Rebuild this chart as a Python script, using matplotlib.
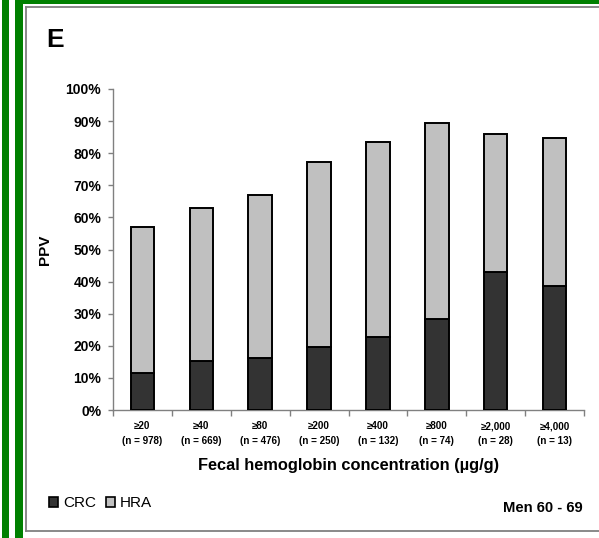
import matplotlib
matplotlib.use("Agg")
import matplotlib.pyplot as plt
from matplotlib.patches import Rectangle, Patch
from matplotlib.lines import Line2D
from matplotlib.ticker import PercentFormatter
import numpy as np

plt.rcParams['font.family'] = ['Liberation Sans', 'DejaVu Sans']

# PPV (%) by fecal hemoglobin cut-off, men aged 60-69
thresholds = ["≥20", "≥40", "≥80", "≥200", "≥400", "≥800", "≥2,000", "≥4,000"]
n_counts = [978, 669, 476, 250, 132, 74, 28, 13]
crc = [11.5, 15.3, 16.1, 19.6, 22.6, 28.3, 42.9, 38.5]
hra = [45.5, 47.6, 50.9, 57.7, 60.8, 61.1, 43.1, 46.2]

W, H = 599, 538
fig = plt.figure(figsize=(W / 100, H / 100), dpi=100)
fig.patch.set_facecolor("white")


def fx(px):
    return px / W


def fy(py):
    return 1 - py / H


green = "#008000"
grey = "#808080"

# frame: two green stripes on the left, green band on top, grey inner box
fig.add_artist(Rectangle((fx(2), 0), fx(7), 1, transform=fig.transFigure,
                         facecolor=green, edgecolor="none"))
fig.add_artist(Rectangle((fx(15), 0), fx(8), 1, transform=fig.transFigure,
                         facecolor=green, edgecolor="none"))
fig.add_artist(Rectangle((fx(15), fy(4)), 1, 4 / H, transform=fig.transFigure,
                         facecolor=green, edgecolor="none"))
fig.add_artist(Line2D([fx(25.5), fx(25.5)], [fy(7), fy(531)], transform=fig.transFigure,
                      color=grey, lw=1.3))
fig.add_artist(Line2D([fx(25.5), 1], [fy(7), fy(7)], transform=fig.transFigure,
                      color=grey, lw=1.3))
fig.add_artist(Line2D([fx(25.5), 1], [fy(531), fy(531)], transform=fig.transFigure,
                      color=grey, lw=1.3))

ax = fig.add_axes([fx(113), fy(410), fx(584) - fx(113), fy(89) - fy(410)])

x = np.arange(len(thresholds))
ax.bar(x, crc, width=0.4, color="#333333", edgecolor="black", linewidth=1.4, zorder=3)
ax.bar(x, hra, width=0.4, bottom=crc, color="#C0C0C0", edgecolor="black",
       linewidth=1.4, zorder=3)

ax.set_xlim(-0.5, len(thresholds) - 0.5)
ax.set_ylim(0, 100)
ax.set_yticks(np.arange(0, 101, 10))
ax.yaxis.set_major_formatter(PercentFormatter(decimals=0))

for side in ["top", "right"]:
    ax.spines[side].set_visible(False)
for side in ["left", "bottom"]:
    ax.spines[side].set_color(grey)
    ax.spines[side].set_linewidth(1.0)

ax.tick_params(axis="y", direction="out", length=3.5, color=grey, width=1.0,
               labelsize=10, pad=5)
for lbl in ax.get_yticklabels():
    lbl.set_fontweight("bold")

# category labels at bar centres, tick marks between categories
ax.set_xticks(x)
ax.set_xticklabels([f"{t}\n(n = {n})" for t, n in zip(thresholds, n_counts)],
                   fontsize=7.1, fontweight="bold", linespacing=1.55)
ax.tick_params(axis="x", which="major", length=0, pad=8)
ax.set_xticks(np.arange(-0.5, len(thresholds)), minor=True)
ax.tick_params(axis="x", which="minor", direction="out", length=4, color=grey, width=1.0)

ax.set_ylabel("PPV", fontsize=11, fontweight="bold")
ax.yaxis.set_label_coords((51.5 - 113) / 471, 0.5)
ax.set_xlabel("Fecal hemoglobin concentration (µg/g)", fontsize=11.8,
              fontweight="bold", labelpad=9)

fig.text(fx(46), fy(47), "E", fontsize=19, fontweight="bold", ha="left", va="baseline")
fig.text(fx(583), fy(512), "Men 60 - 69", fontsize=10.6, fontweight="bold",
         ha="right", va="baseline")

handles = [Patch(facecolor="#333333", edgecolor="black", linewidth=1.2),
           Patch(facecolor="#C0C0C0", edgecolor="black", linewidth=1.2)]
fig.legend(handles, ["CRC", "HRA"], loc="center left",
           bbox_to_anchor=(fx(49), fy(503)), ncol=2, frameon=False,
           fontsize=11, handlelength=0.62, handleheight=0.62,
           handletextpad=0.32, columnspacing=0.6, borderpad=0, borderaxespad=0)

fig.savefig("out.png", dpi=100, facecolor="white")
